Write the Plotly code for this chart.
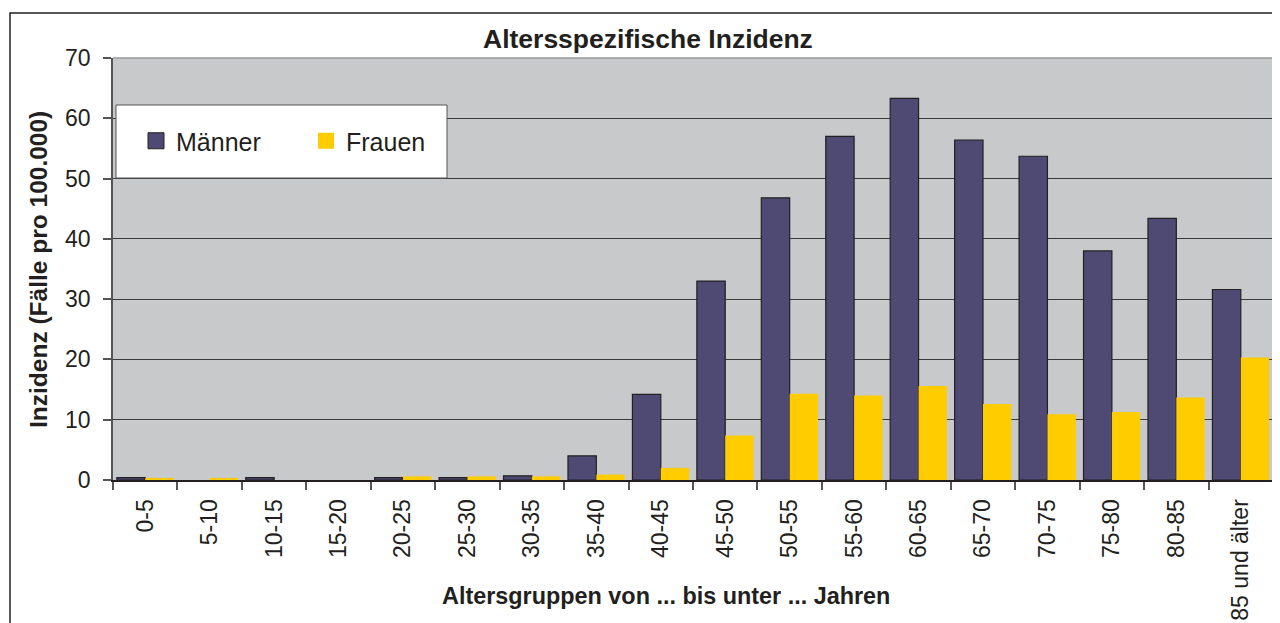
"""
Altersspezifische Inzidenz - grouped bar chart (Maenner / Frauen).
"""
import plotly.graph_objects as go

# ---------------------------------------------------------------------------
# DATA
# ---------------------------------------------------------------------------
age_groups = [
    "0-5", "5-10", "10-15", "15-20", "20-25", "25-30", "30-35", "35-40",
    "40-45", "45-50", "50-55", "55-60", "60-65", "65-70", "70-75", "75-80",
    "80-85", "85 und älter",
]
maenner = [0.4, 0.0, 0.4, 0.0, 0.4, 0.4, 0.7, 4.0, 14.2, 33.0, 46.8, 57.0,
           63.3, 56.4, 53.7, 38.0, 43.4, 31.6]
frauen = [0.2, 0.2, 0.0, 0.0, 0.6, 0.6, 0.6, 0.9, 2.0, 7.4, 14.3, 14.0,
          15.6, 12.6, 10.9, 11.3, 13.7, 20.3]
y_ticks = [0, 10, 20, 30, 40, 50, 60, 70]

# ---------------------------------------------------------------------------
# STYLE
# ---------------------------------------------------------------------------
COLOR_M    = "#4F4A73"
COLOR_F    = "#FFCC00"
TEXT_COLOR = "#231F20"
PLOT_BG    = "#C8C9CB"
FONT       = "Liberation Sans, Arial, sans-serif"

# the page body has an 8px margin, so the figure is drawn from (8, 8)
OFF = 8
W, H = 1280 - OFF, 623 - OFF
L, R, T, B = 105, 7, 50, 143           # plot area 113..1273 x 58..480 on screen
PW, PH = W - L - R, H - T - B


def px_x(x):
    """screen pixel x -> paper x"""
    return (x - OFF - L) / PW


def px_y(y):
    """screen pixel y -> paper y"""
    return (H - B - (y - OFF)) / PH


fig = go.Figure()

fig.add_trace(go.Bar(
    x=age_groups, y=maenner, name="Männer", showlegend=False,
    marker=dict(color=COLOR_M,
                line=dict(color=TEXT_COLOR,
                          width=[1.2 if v > 0 else 0 for v in maenner])),
))
fig.add_trace(go.Bar(
    x=age_groups, y=frauen, name="Frauen", showlegend=False,
    marker=dict(color=COLOR_F, line=dict(width=0)),
))

# legend-only entries so the swatches can be large squares
fig.add_trace(go.Scatter(
    x=[age_groups[0]], y=[None], mode="markers", name="Männer",
    marker=dict(symbol="square", size=17, color=COLOR_M,
                line=dict(color=TEXT_COLOR, width=1)),
))
fig.add_trace(go.Scatter(
    x=[age_groups[0]], y=[None], mode="markers", name="Frauen",
    marker=dict(symbol="square", size=17, color=COLOR_F, line=dict(width=0)),
))

# outer chart frame, legend box, plot-area border
fig.add_shape(type="rect", xref="paper", yref="paper",
              x0=px_x(10), x1=px_x(1300), y0=px_y(640), y1=px_y(13),
              line=dict(color=TEXT_COLOR, width=1.5), layer="below")
fig.add_shape(type="rect", xref="paper", yref="paper",
              x0=px_x(116), x1=px_x(447), y0=px_y(178), y1=px_y(105),
              fillcolor="white", line=dict(color="#555555", width=1), layer="above")
fig.add_shape(type="line", xref="paper", yref="paper",
              x0=0, x1=1, y0=1, y1=1, line=dict(color="#9A9A9A", width=1.5))
fig.add_shape(type="line", xref="paper", yref="paper",
              x0=1, x1=1, y0=0, y1=1, line=dict(color="#9A9A9A", width=1.5))

fig.add_annotation(
    x=px_x(648), y=px_y(39), xref="paper", yref="paper",
    text="<b>Altersspezifische Inzidenz</b>", showarrow=False,
    xanchor="center", yanchor="middle",
    font=dict(size=26.5, color=TEXT_COLOR, family=FONT),
)
fig.add_annotation(
    x=px_x(666), y=px_y(596), xref="paper", yref="paper",
    text="<b>Altersgruppen von ... bis unter ... Jahren</b>", showarrow=False,
    xanchor="center", yanchor="middle",
    font=dict(size=23.4, color=TEXT_COLOR, family=FONT),
)
fig.add_annotation(
    x=px_x(38), y=px_y(270), xref="paper", yref="paper",
    text="<b>Inzidenz (Fälle pro 100.000)</b>", showarrow=False, textangle=-90,
    xanchor="center", yanchor="middle",
    font=dict(size=24.5, color=TEXT_COLOR, family=FONT),
)

fig.update_layout(
    width=W, height=H,
    barmode="group", bargap=0.12, bargroupgap=0,
    paper_bgcolor="white", plot_bgcolor=PLOT_BG,
    font=dict(family=FONT, color=TEXT_COLOR, size=23),
    margin=dict(l=L, r=R, t=T, b=B),
    showlegend=True,
    legend=dict(
        orientation="h", x=px_x(136), y=px_y(141), xanchor="left", yanchor="middle",
        bgcolor="rgba(0,0,0,0)", borderwidth=0,
        entrywidth=125, entrywidthmode="pixels",
        font=dict(size=25, color=TEXT_COLOR, family=FONT),
    ),
    xaxis=dict(
        type="category", range=[-0.5, len(age_groups) - 0.5],
        tickangle=-90, tickson="boundaries",
        ticks="outside", ticklen=8, tickcolor="#555555", tickwidth=1.5,
        ticklabelstandoff=8,
        showline=True, linecolor=TEXT_COLOR, linewidth=2,
        showgrid=False, automargin=False,
        tickfont=dict(size=23, color=TEXT_COLOR, family=FONT),
    ),
    yaxis=dict(
        range=[0, 70], tickvals=y_ticks,
        ticks="outside", ticklen=8, tickcolor="#555555", tickwidth=1.5,
        ticklabelstandoff=8,
        showline=True, linecolor="#555555", linewidth=1.5,
        showgrid=True, gridcolor="#3A3A3A", gridwidth=1,
        zeroline=False, automargin=False,
        tickfont=dict(size=23, color=TEXT_COLOR, family=FONT),
    ),
)

fig.write_html("out.html")
